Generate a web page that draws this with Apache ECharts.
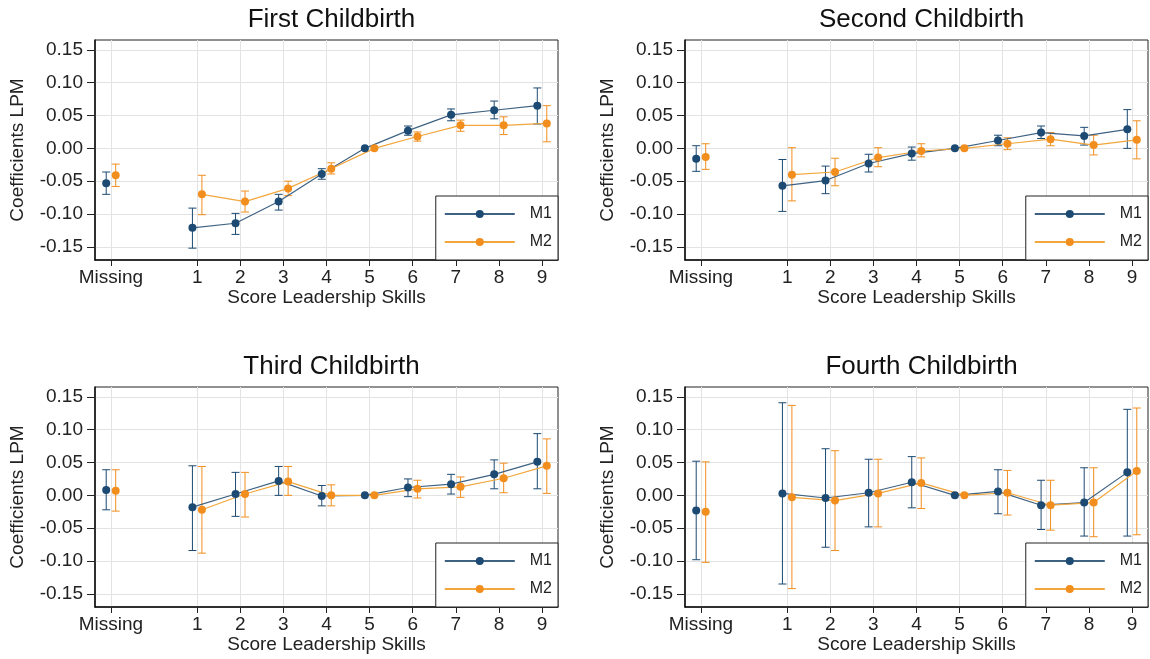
<!DOCTYPE html>
<html>
<head>
<meta charset="utf-8">
<script src="https://cdn.jsdelivr.net/npm/echarts@6/dist/echarts.min.js"></script>
<style>
  html, body { margin: 0; padding: 0; background: #fff; }
  #chart { width: 1150px; height: 659px; }
</style>
</head>
<body>
<div id="chart"></div>
<script>
// x categories: Missing, then scores 1..9 (Missing sits two steps left of 1)
const scoreLabels = ['Missing', '1', '2', '3', '4', '5', '6', '7', '8', '9']
const scorePos = [-1, 1, 2, 3, 4, 5, 6, 7, 8, 9]
const yTicks = [-0.15, -0.10, -0.05, 0, 0.05, 0.10, 0.15]
const titles = ['First Childbirth', 'Second Childbirth', 'Third Childbirth', 'Fourth Childbirth']

// First childbirth
const firstM1 = [-0.053, -0.121, -0.114, -0.081, -0.039, 0, 0.027, 0.051, 0.058, 0.065]
const firstM1Lo = [-0.070, -0.152, -0.131, -0.094, -0.047, null, 0.020, 0.042, 0.045, 0.037]
const firstM1Hi = [-0.036, -0.091, -0.099, -0.070, -0.031, null, 0.034, 0.060, 0.072, 0.092]
const firstM2 = [-0.041, -0.070, -0.081, -0.061, -0.031, 0, 0.018, 0.035, 0.035, 0.038]
const firstM2Lo = [-0.058, -0.101, -0.097, -0.072, -0.039, null, 0.011, 0.026, 0.021, 0.010]
const firstM2Hi = [-0.024, -0.041, -0.065, -0.050, -0.022, null, 0.025, 0.043, 0.048, 0.065]

// Second childbirth
const secondM1 = [-0.016, -0.057, -0.049, -0.023, -0.008, 0, 0.012, 0.024, 0.019, 0.029]
const secondM1Lo = [-0.035, -0.096, -0.069, -0.036, -0.018, null, 0.004, 0.015, 0.005, 0.000]
const secondM1Hi = [0.004, -0.017, -0.027, -0.009, 0.002, null, 0.020, 0.034, 0.032, 0.059]
const secondM2 = [-0.013, -0.040, -0.036, -0.014, -0.004, 0, 0.007, 0.014, 0.005, 0.013]
const secondM2Lo = [-0.032, -0.080, -0.057, -0.028, -0.013, null, -0.002, 0.004, -0.010, -0.016]
const secondM2Hi = [0.007, 0.001, -0.015, 0.001, 0.007, null, 0.016, 0.024, 0.020, 0.042]

// Third childbirth
const thirdM1 = [0.008, -0.018, 0.002, 0.022, -0.001, 0, 0.012, 0.017, 0.032, 0.051]
const thirdM1Lo = [-0.022, -0.084, -0.032, 0.000, -0.016, null, -0.002, 0.002, 0.010, 0.010]
const thirdM1Hi = [0.039, 0.045, 0.035, 0.044, 0.015, null, 0.025, 0.032, 0.054, 0.094]
const thirdM2 = [0.007, -0.022, 0.002, 0.021, 0.000, 0, 0.010, 0.013, 0.026, 0.045]
const thirdM2Lo = [-0.024, -0.088, -0.033, 0.000, -0.016, null, -0.004, -0.003, 0.004, 0.003]
const thirdM2Hi = [0.039, 0.044, 0.035, 0.044, 0.016, null, 0.023, 0.028, 0.049, 0.086]

// Fourth childbirth
const fourthM1 = [-0.023, 0.003, -0.004, 0.004, 0.020, 0, 0.006, -0.015, -0.011, 0.035]
const fourthM1Lo = [-0.098, -0.135, -0.079, -0.048, -0.019, null, -0.028, -0.052, -0.062, -0.062]
const fourthM1Hi = [0.052, 0.141, 0.071, 0.055, 0.059, null, 0.039, 0.023, 0.042, 0.131]
const fourthM2 = [-0.025, -0.003, -0.008, 0.003, 0.019, 0, 0.004, -0.015, -0.011, 0.037]
const fourthM2Lo = [-0.102, -0.142, -0.084, -0.048, -0.020, null, -0.030, -0.053, -0.063, -0.060]
const fourthM2Hi = [0.051, 0.137, 0.068, 0.055, 0.057, null, 0.038, 0.023, 0.042, 0.133]

const font = "'Liberation Sans', Arial, sans-serif"
const navy = '#1c4a72'
const orange = '#f28e1e'
// connecting lines look a bit lighter in the original
const navyLine = '#3f6283'
const orangeLine = '#f2a63c'

const panels = [
  { left: 95, top: 40, m1: [firstM1, firstM1Lo, firstM1Hi], m2: [firstM2, firstM2Lo, firstM2Hi] },
  { left: 685, top: 40, m1: [secondM1, secondM1Lo, secondM1Hi], m2: [secondM2, secondM2Lo, secondM2Hi] },
  { left: 95, top: 387, m1: [thirdM1, thirdM1Lo, thirdM1Hi], m2: [thirdM2, thirdM2Lo, thirdM2Hi] },
  { left: 685, top: 387, m1: [fourthM1, fourthM1Lo, fourthM1Hi], m2: [fourthM2, fourthM2Lo, fourthM2Hi] }
]
const plotW = 463
const plotH = 220

function errorBar(params, api) {
  const x = api.value(0)
  const lo = api.coord([x, api.value(1)])
  const hi = api.coord([x, api.value(2)])
  const cap = 4
  const style = { stroke: api.visual('color'), lineWidth: 1 }
  return {
    type: 'group',
    children: [
      { type: 'line', shape: { x1: lo[0], y1: lo[1], x2: hi[0], y2: hi[1] }, style: style },
      { type: 'line', shape: { x1: hi[0] - cap, y1: hi[1], x2: hi[0] + cap, y2: hi[1] }, style: style },
      { type: 'line', shape: { x1: lo[0] - cap, y1: lo[1], x2: lo[0] + cap, y2: lo[1] }, style: style }
    ]
  }
}

const lineSeries = []
const otherSeries = []
panels.forEach((p, k) => {
  [['M1', navy, navyLine, -0.11, p.m1], ['M2', orange, orangeLine, 0.11, p.m2]].forEach(([name, color, lineColor, off, d]) => {
    const est = d[0], lo = d[1], hi = d[2]
    const pts = []
    const bars = []
    for (let i = 1; i < scorePos.length; i++) pts.push([scorePos[i] + off, est[i]])
    for (let i = 0; i < scorePos.length; i++) {
      if (lo[i] !== null) bars.push([scorePos[i] + off, lo[i], hi[i]])
    }
    lineSeries.push({
      name: name, type: 'line', xAxisIndex: k, yAxisIndex: k, data: pts,
      symbol: 'circle', symbolSize: 8, color: color, z: 4,
      lineStyle: { width: 1.2, color: lineColor }, itemStyle: { color: color }
    })
    otherSeries.push({
      name: name, type: 'scatter', xAxisIndex: k, yAxisIndex: k,
      data: [[scorePos[0] + off, est[0]]], symbolSize: 8, color: color, z: 4,
      itemStyle: { color: color, opacity: 1 }
    })
    otherSeries.push({
      type: 'custom', xAxisIndex: k, yAxisIndex: k, data: bars,
      encode: { x: 0, y: [1, 2] }, renderItem: errorBar, color: color, z: 3
    })
  })
})

const chart = echarts.init(document.getElementById('chart'))
chart.setOption({
  animation: false,
  backgroundColor: '#fff',
  title: panels.map((p, k) => ({
    text: titles[k], left: p.left + plotW / 2, top: p.top - 38, textAlign: 'center',
    textStyle: { fontFamily: font, fontSize: 26, fontWeight: 'normal', color: '#111' }
  })),
  legend: panels.map(p => ({
    data: ['M1', 'M2'], orient: 'vertical',
    right: 1150 - (p.left + plotW), bottom: 659 - (p.top + plotH),
    itemWidth: 70, itemHeight: 10, itemGap: 12,
    padding: [10, 6, 10, 8],
    backgroundColor: '#fff', borderColor: '#222', borderWidth: 1,
    selectedMode: false,
    textStyle: { fontFamily: font, fontSize: 16, color: '#222', padding: [0, 0, 0, 10] }
  })),
  grid: panels.map(p => ({
    left: p.left, top: p.top, width: plotW, height: plotH,
    show: true, borderColor: '#222', borderWidth: 1, backgroundColor: '#fff'
  })),
  xAxis: panels.map((p, k) => ({
    type: 'value', gridIndex: k, min: -1.37, max: 9.37,
    name: 'Score Leadership Skills', nameLocation: 'middle', nameGap: 28,
    nameTextStyle: { fontFamily: font, fontSize: 19, color: '#222' },
    axisLine: { onZero: false, lineStyle: { color: '#111', width: 1.5 } },
    axisTick: { customValues: scorePos, length: 6, lineStyle: { color: '#222' } },
    axisLabel: {
      customValues: scorePos, margin: 8, fontFamily: font, fontSize: 19, color: '#222',
      formatter: v => scoreLabels[scorePos.indexOf(Math.round(v))]
    },
    splitLine: { show: true, lineStyle: { color: '#e3e3e3', width: 1 } }
  })),
  yAxis: panels.map((p, k) => ({
    type: 'value', gridIndex: k, min: -0.17, max: 0.165,
    name: 'Coefficients LPM', nameLocation: 'middle', nameGap: 68,
    nameTextStyle: { fontFamily: font, fontSize: 19, color: '#222' },
    axisLine: { show: true, onZero: false, lineStyle: { color: '#111', width: 1.5 } },
    axisTick: { show: true, customValues: yTicks, length: 8, lineStyle: { color: '#222' } },
    axisLabel: {
      customValues: yTicks, margin: 12, fontFamily: font, fontSize: 19, color: '#222',
      formatter: v => v.toFixed(2)
    },
    splitLine: { show: true, lineStyle: { color: '#e3e3e3', width: 1 } }
  })),
  series: lineSeries.concat(otherSeries)
})
</script>
</body>
</html>
